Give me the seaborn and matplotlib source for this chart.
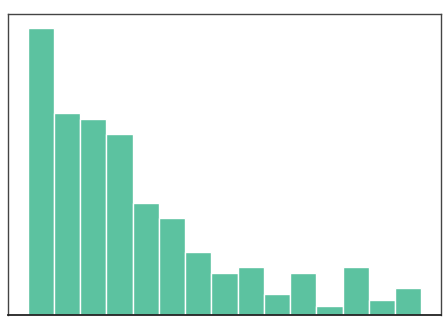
import matplotlib
matplotlib.use("Agg")
import matplotlib.pyplot as plt
import seaborn as sns
import numpy as np

# Bin index (1..15) and count per bin
bins_idx = [1, 2, 3, 4, 5, 6, 7, 8, 9, 10, 11, 12, 13, 14, 15]
counts = [95, 67, 65, 60, 37, 32, 21, 14, 16, 7, 14, 3, 16, 5, 9]

sns.set_theme(style="white")
fig = plt.figure(figsize=(4.47, 3.22), dpi=100)
ax = fig.add_axes([8/447, 7/322, 433/447, 301/322])

sns.histplot(x=bins_idx, weights=counts, bins=15, binrange=(0.5, 15.5),
             color="#5cc2a0", alpha=1.0, edgecolor="white", linewidth=1.0, ax=ax)

ax.set_xticks([])
ax.set_yticks([])
ax.set_xlabel("")
ax.set_ylabel("")
for side in ["left", "right", "top"]:
    ax.spines[side].set_color("#444444")
    ax.spines[side].set_linewidth(1.0)
ax.spines["bottom"].set_color("#222222")
ax.spines["bottom"].set_linewidth(1.3)

fig.savefig("out.png", dpi=100)
